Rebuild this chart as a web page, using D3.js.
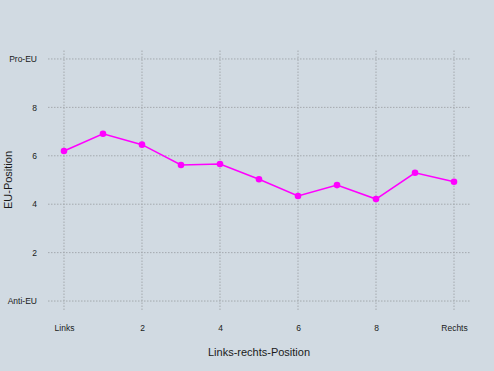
<!DOCTYPE html>
<html>
<head>
<meta charset="utf-8">
<script src="https://cdn.jsdelivr.net/npm/d3@7"></script>
<style>
  body { margin: 0; background: #d1dae2; }
  text { font-family: "Liberation Sans", Arial, sans-serif; }
</style>
</head>
<body>
<div id="chart"></div>
<script>
// Links-rechts-Position vs. EU-Position
let positions = [0, 1, 2, 3, 4, 5, 6, 7, 8, 9, 10];
let euValues = [6.2, 6.91, 6.46, 5.62, 5.66, 5.03, 4.34, 4.79, 4.21, 5.30, 4.93];
let xTicks = [0, 2, 4, 6, 8, 10];
let xTickLabels = ["Links", "2", "4", "6", "8", "Rechts"];
let yTicks = [0, 2, 4, 6, 8, 10];
let yTickLabels = ["Anti-EU", "2", "4", "6", "8", "Pro-EU"];

let width = 494;
let height = 371;

const svg = d3.select("#chart").append("svg")
              .attr("width", width)
              .attr("height", height);

svg.append("rect")
   .attr("width", width)
   .attr("height", height)
   .attr("fill", "#d1dae2");

let x = d3.scaleLinear()
          .domain([-0.41, 10.41])
          .range([48, 470]);

let y = d3.scaleLinear()
          .domain([-0.37, 10.37])
          .range([310, 50]);

// grid
svg.append("g")
   .selectAll("line")
   .data(xTicks)
   .join("line")
   .attr("x1", d => x(d)).attr("x2", d => x(d))
   .attr("y1", y.range()[0]).attr("y2", y.range()[1])
   .attr("stroke", "#a4a9ae")
   .attr("stroke-width", 1)
   .attr("stroke-dasharray", "1.5,1.5");

svg.append("g")
   .selectAll("line")
   .data(yTicks)
   .join("line")
   .attr("x1", x.range()[0]).attr("x2", x.range()[1])
   .attr("y1", d => y(d)).attr("y2", d => y(d))
   .attr("stroke", "#a4a9ae")
   .attr("stroke-width", 1)
   .attr("stroke-dasharray", "1.5,1.5");

// axes (labels only)
let xAxis = g => g
    .attr("transform", `translate(0,${y.range()[0] + 9})`)
    .call(d3.axisBottom(x).tickValues(xTicks).tickFormat((d, i) => xTickLabels[i]).tickSize(0).tickPadding(6))
    .call(g => g.select(".domain").remove());

let yAxis = g => g
    .attr("transform", `translate(${x.range()[0] - 11},0)`)
    .call(d3.axisLeft(y).tickValues(yTicks).tickFormat((d, i) => yTickLabels[i]).tickSize(0).tickPadding(0))
    .call(g => g.select(".domain").remove());

svg.append("g").call(xAxis)
   .selectAll("text")
   .attr("font-size", 8.5)
   .attr("font-family", "Liberation Sans, Arial, sans-serif")
   .attr("fill", "#1a1a1a");

svg.append("g").call(yAxis)
   .selectAll("text")
   .attr("font-size", 8.5)
   .attr("font-family", "Liberation Sans, Arial, sans-serif")
   .attr("fill", "#1a1a1a");

// titles
svg.append("text")
   .attr("x", (x.range()[0] + x.range()[1]) / 2)
   .attr("y", 356)
   .attr("text-anchor", "middle")
   .attr("font-size", 11)
   .attr("fill", "#1a1a1a")
   .text("Links-rechts-Position");

svg.append("text")
   .attr("transform", `translate(12,${(y.range()[0] + y.range()[1]) / 2}) rotate(-90)`)
   .attr("text-anchor", "middle")
   .attr("font-size", 11)
   .attr("fill", "#1a1a1a")
   .text("EU-Position");

// line + points
let line = d3.line()
             .x((d, i) => x(positions[i]))
             .y(d => y(d));

svg.append("path")
   .datum(euValues)
   .attr("d", line)
   .attr("fill", "none")
   .attr("stroke", "#ff00ff")
   .attr("stroke-width", 1.6);

svg.append("g")
   .selectAll("circle")
   .data(euValues)
   .join("circle")
   .attr("cx", (d, i) => x(positions[i]))
   .attr("cy", d => y(d))
   .attr("r", 3.3)
   .attr("fill", "#ff00ff");
</script>
</body>
</html>
